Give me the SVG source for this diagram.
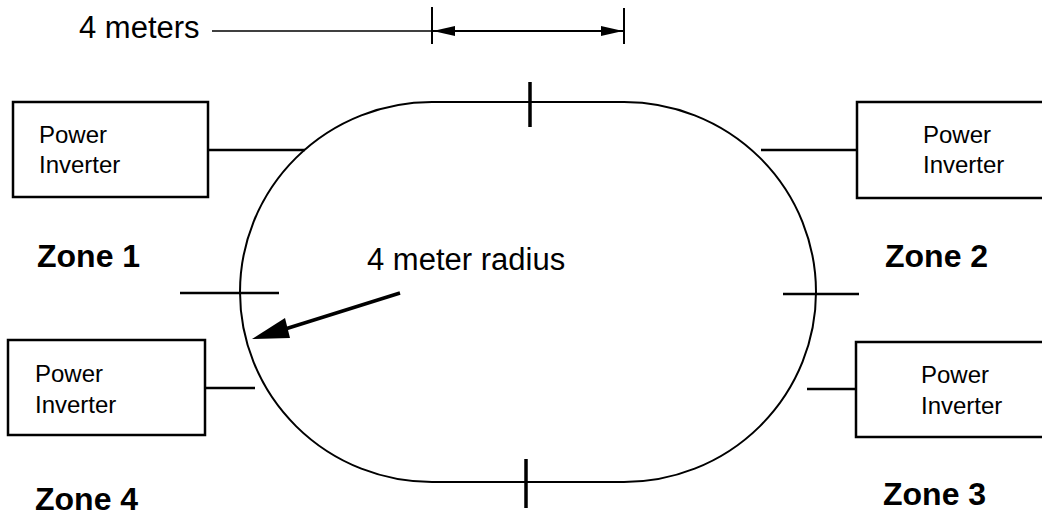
<svg xmlns="http://www.w3.org/2000/svg" width="1042" height="516" viewBox="0 0 1042 516">
<style>
.box{fill:#fff;stroke:#000;stroke-width:2.5}
.ln{stroke:#000;stroke-width:2.5;fill:none}
.tk{stroke:#000;stroke-width:3.5;fill:none}
.bt{font-family:"Liberation Sans",Arial,sans-serif;font-size:24px;fill:#000}
.zt{font-family:"Liberation Sans",Arial,sans-serif;font-size:32px;font-weight:bold;fill:#000}
.lt{font-family:"Liberation Sans",Arial,sans-serif;font-size:31px;fill:#000}
</style>
<defs>
<marker id="ah" markerWidth="12" markerHeight="8" refX="11" refY="4" orient="auto" markerUnits="userSpaceOnUse" viewBox="0 0 12 8">
<path d="M0,0 L12,4 L0,8 Z" fill="#000"/>
</marker>
</defs>
<rect width="1042" height="516" fill="#fff"/>
<g id="track">
<path d="M432 102 L624 102 A192 190 0 0 1 624 482 L432 482 A192 190 0 0 1 432 102 Z" fill="none" stroke="#000" stroke-width="2"/>
<line class="tk" x1="530" y1="82" x2="530" y2="127"/>
<line class="tk" x1="526" y1="459" x2="526" y2="508"/>
<line class="ln" x1="180" y1="293" x2="279" y2="293"/>
<line class="ln" x1="783" y1="294" x2="859" y2="294"/>
</g>
<g id="dimension">
<text class="lt" x="79" y="38">4 meters</text>
<line x1="212" y1="31" x2="432" y2="31" stroke="#000" stroke-width="1.5"/>
<line x1="432" y1="7" x2="432" y2="44" stroke="#000" stroke-width="2"/>
<line x1="624" y1="8" x2="624" y2="44" stroke="#000" stroke-width="2"/>
<line x1="432" y1="31" x2="624" y2="31" stroke="#000" stroke-width="2"/>
<path d="M433 31 L455 26 L455 36 Z" fill="#000"/>
<path d="M623 31 L601 26 L601 36 Z" fill="#000"/>
</g>
<g id="radius">
<text class="lt" x="367" y="270">4 meter radius</text>
<line x1="400" y1="293" x2="282" y2="330" stroke="#000" stroke-width="3.5"/>
<path d="M252 339 L285 318 L290 338 Z" fill="#000"/>
</g>
<g id="inverter1">
<rect class="box" x="13" y="102" width="195" height="95"/>
<text class="bt" x="39" y="143">Power</text>
<text class="bt" x="39" y="173">Inverter</text>
</g>
<g id="inverter2">
<rect class="box" x="857" y="102" width="200" height="96"/>
<text class="bt" x="923" y="143">Power</text>
<text class="bt" x="923" y="173">Inverter</text>
</g>
<g id="inverter3">
<rect class="box" x="856" y="342" width="200" height="95"/>
<text class="bt" x="921" y="383">Power</text>
<text class="bt" x="921" y="414">Inverter</text>
</g>
<g id="inverter4">
<rect class="box" x="8" y="340" width="197" height="95"/>
<text class="bt" x="35" y="382">Power</text>
<text class="bt" x="35" y="413">Inverter</text>
</g>
<g id="zones">
<text class="zt" x="37" y="267">Zone 1</text>
<text class="zt" x="885" y="267">Zone 2</text>
<text class="zt" x="883" y="505">Zone 3</text>
<text class="zt" x="35" y="510">Zone 4</text>
</g>
<g id="connectors">
<line class="ln" x1="208" y1="150" x2="305" y2="150"/>
<line class="ln" x1="761" y1="150" x2="857" y2="150"/>
<line class="ln" x1="807" y1="389" x2="856" y2="389"/>
<line class="ln" x1="205" y1="388" x2="255" y2="388"/>
</g>
</svg>
